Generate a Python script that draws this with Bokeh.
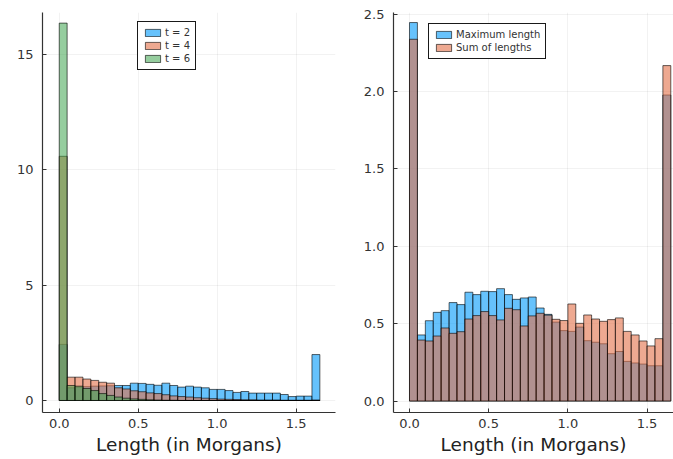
from bokeh.plotting import figure
from bokeh.layouts import row
from bokeh.models import FixedTicker, Range1d, Legend, LegendItem
from bokeh.embed import file_html
from bokeh.resources import INLINE

# ---- data (density histograms, bin width 0.05 Morgans, 33 bins from 0 to 1.65) ----
bin_width = 0.05
n_bins = 33

t2 = [2.43, 0.55, 0.58, 0.60, 0.62, 0.63, 0.64, 0.65, 0.65, 0.75, 0.74, 0.70, 0.66,
      0.75, 0.65, 0.58, 0.62, 0.58, 0.55, 0.48, 0.48, 0.43, 0.35, 0.39, 0.32, 0.32,
      0.32, 0.32, 0.26, 0.17, 0.19, 0.19, 1.99]
t4 = [10.58, 1.01, 1.01, 0.93, 0.87, 0.79, 0.75, 0.55, 0.50, 0.42, 0.38, 0.33, 0.30,
      0.25, 0.20, 0.17, 0.15, 0.12, 0.10, 0.08, 0.06, 0.05, 0.04, 0.03, 0.03, 0.02,
      0.02, 0.02, 0.01, 0.01, 0.01, 0.01, 0.02]
t6 = [16.35, 0.65, 0.62, 0.52, 0.43, 0.30, 0.22, 0.15, 0.10, 0.07, 0.05, 0.03, 0.02,
      0.01, 0.01, 0.0, 0.0, 0.0, 0.0, 0.0, 0.0, 0.0, 0.0, 0.0, 0.0, 0.0,
      0.0, 0.0, 0.0, 0.0, 0.0, 0.0, 0.0]

max_len = [2.445, 0.427, 0.519, 0.573, 0.584, 0.636, 0.623, 0.703, 0.6875, 0.709, 0.707,
           0.726, 0.6875, 0.657, 0.666, 0.672, 0.601, 0.56, 0.51, 0.455, 0.45, 0.478,
           0.39, 0.38, 0.37, 0.306, 0.32, 0.256, 0.246, 0.239, 0.228, 0.228, 1.977]
sum_len = [2.337, 0.394, 0.388, 0.42, 0.472, 0.4375, 0.448, 0.53, 0.552, 0.578, 0.552,
           0.524, 0.599, 0.59, 0.485, 0.55, 0.567, 0.555, 0.528, 0.52, 0.627, 0.502,
           0.556, 0.53, 0.515, 0.526, 0.537, 0.45, 0.427, 0.388, 0.356, 0.403, 2.167]

left_labels = ["t = 2", "t = 4", "t = 6"]
right_labels = ["Maximum length", "Sum of lengths"]

x_ticks = [0.0, 0.5, 1.0, 1.5]
x_tick_labels = ["0.0", "0.5", "1.0", "1.5"]
left_y_ticks = [0, 5, 10, 15]
left_y_tick_labels = ["0", "5", "10", "15"]
right_y_ticks = [0.0, 0.5, 1.0, 1.5, 2.0, 2.5]
right_y_tick_labels = ["0.0", "0.5", "1.0", "1.5", "2.0", "2.5"]

x_label = "Length (in Morgans)"

colors = ["#009AFA", "#E36F47", "#3EA44E"]
alphas = [0.6, 0.6, 0.55]

left_edges = [round(i * bin_width, 4) for i in range(n_bins)]
right_edges = [round((i + 1) * bin_width, 4) for i in range(n_bins)]

FONT = "DejaVu Sans"
FG = "#333333"


def make_fig(width, min_left, min_right, xr, yr, yticks, yticklabels):
    p = figure(width=width, height=458, output_backend="svg", toolbar_location=None,
               x_range=Range1d(*xr), y_range=Range1d(*yr),
               min_border_left=min_left, min_border_right=min_right,
               min_border_top=12, min_border_bottom=46)
    p.outline_line_color = None
    p.background_fill_color = "white"
    p.border_fill_color = "white"
    p.xaxis.ticker = FixedTicker(ticks=x_ticks)
    p.xaxis.major_label_overrides = {t: l for t, l in zip(x_ticks, x_tick_labels)}
    p.yaxis.ticker = FixedTicker(ticks=yticks)
    p.yaxis.major_label_overrides = {t: l for t, l in zip(yticks, yticklabels)}
    for ax in (p.xaxis, p.yaxis):
        ax.axis_line_color = FG
        ax.axis_line_width = 1.2
        ax.major_tick_line_color = FG
        ax.major_tick_in = 4
        ax.major_tick_out = 0
        ax.minor_tick_line_color = None
        ax.major_label_text_font = FONT
        ax.major_label_text_font_size = "13px"
        ax.major_label_text_color = FG
    p.xaxis.major_label_standoff = 6
    p.yaxis.major_label_standoff = 9
    p.xaxis.axis_label = x_label
    p.xaxis.axis_label_text_font = FONT
    p.xaxis.axis_label_text_font_size = "18.5px"
    p.xaxis.axis_label_text_font_style = "normal"
    p.xaxis.axis_label_text_color = "#222222"
    p.xaxis.axis_label_standoff = 3
    p.grid.grid_line_color = "black"
    p.grid.grid_line_alpha = 0.09
    p.grid.grid_line_width = 0.6
    return p


def add_hists(p, series, labels, loc):
    items = []
    for vals, lab, col, a in zip(series, labels, colors, alphas):
        r = p.quad(left=left_edges, right=right_edges, bottom=0, top=vals,
                   fill_color=col, fill_alpha=a, line_color="black",
                   line_alpha=0.6, line_width=1)
        items.append(LegendItem(label=lab, renderers=[r]))
    leg = Legend(items=items, location=loc)
    leg.border_line_color = "black"
    leg.border_line_width = 1
    leg.border_line_alpha = 0.9
    leg.background_fill_color = "white"
    leg.background_fill_alpha = 1
    leg.label_text_font = FONT
    leg.label_text_font_size = "10px"
    leg.label_text_color = FG
    leg.glyph_width = 19
    leg.glyph_height = 9
    leg.label_height = 10
    leg.label_standoff = 3
    leg.spacing = 2
    leg.padding = 5
    leg.margin = 0
    p.add_layout(leg, "center")


left = make_fig(340, 42, 5, (-0.106, 1.749), (-0.52, 16.81),
                left_y_ticks, left_y_tick_labels)
add_hists(left, [t2, t4, t6], left_labels, (95, 342))

right = make_fig(333, 53, 0, (-0.101, 1.667), (-0.074, 2.51),
                 right_y_ticks, right_y_tick_labels)
add_hists(right, [max_len, sum_len], right_labels, (35, 353))

layout = row(left, right, spacing=0)

open("out.html", "w").write(file_html(layout, INLINE))
